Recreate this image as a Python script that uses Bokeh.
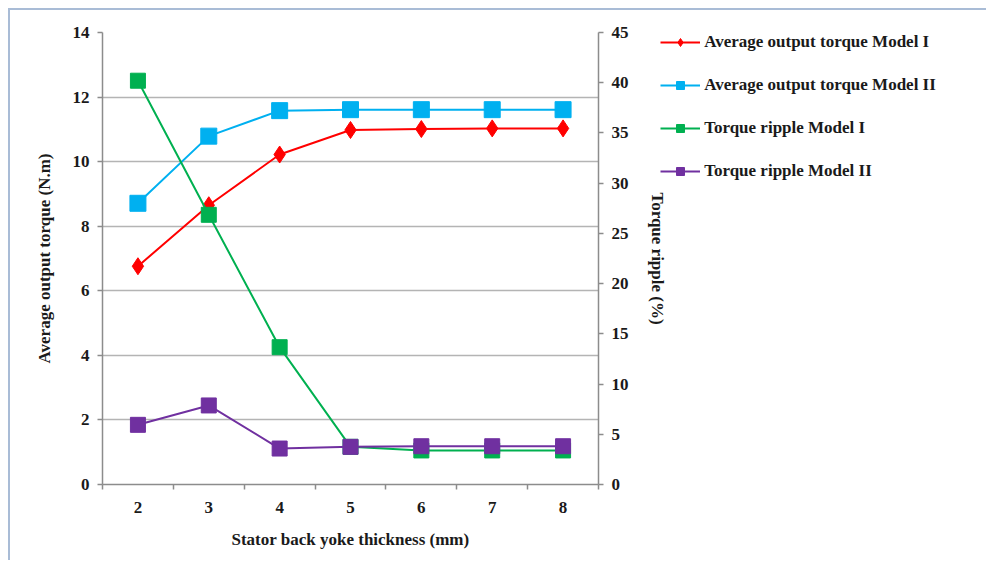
from bokeh.plotting import figure
from bokeh.models import (Range1d, LinearAxis, FixedTicker, Legend, LegendItem)
from bokeh.embed import file_html
from bokeh.resources import INLINE

thickness = [2, 3, 4, 5, 6, 7, 8]
torque_model1 = [6.76, 8.65, 10.22, 10.98, 11.01, 11.03, 11.03]
torque_model2 = [8.71, 10.79, 11.58, 11.61, 11.61, 11.61, 11.61]
ripple_model1 = [40.2, 26.85, 13.67, 3.75, 3.39, 3.39, 3.39]
ripple_model2 = [5.94, 7.87, 3.58, 3.75, 3.81, 3.81, 3.81]
left_ticks = [0, 2, 4, 6, 8, 10, 12, 14]
right_ticks = [0, 5, 10, 15, 20, 25, 30, 35, 40, 45]
x_bounds = [1.5, 2.5, 3.5, 4.5, 5.5, 6.5, 7.5, 8.5]

FONT = "Liberation Serif"
TXT = "#1a1a1a"
AXC = "#8c8c8c"

p = figure(frame_width=496, frame_height=452, output_backend="svg", toolbar_location=None,
           x_range=Range1d(1.5, 8.5), y_range=Range1d(0, 14),
           min_border_left=92, min_border_right=0, min_border_top=22,
           min_border_bottom=76, outline_line_color=None)
p.styles = {"margin-left": "8px", "margin-top": "8px",
            "border-left": "2px solid #a9bcd6", "border-top": "2px solid #a9bcd6"}
p.extra_y_ranges = {"ripple": Range1d(0, 45)}

# axes
p.xaxis.ticker = FixedTicker(ticks=thickness, minor_ticks=x_bounds)
p.yaxis.ticker = FixedTicker(ticks=left_ticks, minor_ticks=[])
p.xaxis.axis_label = "Stator back yoke thickness (mm)"
p.yaxis.axis_label = "Average output torque (N.m)"

raxis = LinearAxis(y_range_name="ripple", ticker=FixedTicker(ticks=right_ticks, minor_ticks=[]),
                   axis_label="Torque ripple (%)")
p.add_layout(raxis, "right")

for ax in [p.xaxis[0], p.yaxis[0], raxis]:
    ax.axis_line_color = AXC
    ax.axis_line_width = 1.5
    ax.major_tick_line_color = AXC
    ax.major_tick_line_width = 1.5
    ax.major_tick_in = 0
    ax.major_tick_out = 5
    ax.minor_tick_line_color = AXC
    ax.minor_tick_line_width = 1.5
    ax.minor_tick_in = 0
    ax.minor_tick_out = 5
    ax.major_label_text_font = FONT
    ax.major_label_text_font_style = "bold"
    ax.major_label_text_font_size = "17px"
    ax.major_label_text_color = TXT
    ax.axis_label_text_font = FONT
    ax.axis_label_text_font_style = "bold"
    ax.axis_label_text_font_size = "17px"
    ax.axis_label_text_color = TXT

p.xaxis.major_tick_out = 0
p.xaxis.major_label_standoff = 12
p.xaxis.axis_label_standoff = 14
p.yaxis.major_label_standoff = 8
p.yaxis.axis_label_standoff = 16
raxis.major_label_standoff = 8
raxis.axis_label_standoff = 16

p.xgrid.grid_line_color = None
p.ygrid.ticker = FixedTicker(ticks=left_ticks)
p.ygrid.grid_line_color = "#b4b4b4"
p.ygrid.grid_line_width = 1.5

RED = "#ff0000"
BLUE = "#00b0f0"
GREEN = "#00b050"
PURPLE = "#7030a0"

l1 = p.line(thickness, torque_model1, line_color=RED, line_width=2)
s1 = p.scatter(thickness, torque_model1, marker="diamond", size=17, color=RED)
l2 = p.line(thickness, torque_model2, line_color=BLUE, line_width=2)
s2 = p.scatter(thickness, torque_model2, marker="square", size=16, color=BLUE)
l3 = p.line(thickness, ripple_model1, line_color=GREEN, line_width=2, y_range_name="ripple")
s3 = p.scatter(thickness, ripple_model1, marker="square", size=15, color=GREEN, y_range_name="ripple")
l4 = p.line(thickness, ripple_model2, line_color=PURPLE, line_width=2, y_range_name="ripple")
s4 = p.scatter(thickness, ripple_model2, marker="square", size=15, color=PURPLE, y_range_name="ripple")

legend = Legend(items=[
    LegendItem(label="Average output torque Model I", renderers=[l1, s1]),
    LegendItem(label="Average output torque Model II", renderers=[l2, s2]),
    LegendItem(label="Torque ripple Model I", renderers=[l3, s3]),
    LegendItem(label="Torque ripple Model II", renderers=[l4, s4]),
], location=(-240, 303))
legend.label_text_font = FONT
legend.label_text_font_style = "bold"
legend.label_text_font_size = "17px"
legend.label_text_color = TXT
legend.glyph_width = 40
legend.glyph_height = 20
legend.label_height = 20
legend.spacing = 23
legend.padding = 0
legend.margin = 0
legend.label_standoff = 4
legend.border_line_alpha = 0
legend.background_fill_alpha = 0
p.add_layout(legend, "right")

open("out.html", "w").write(file_html(p, INLINE))
